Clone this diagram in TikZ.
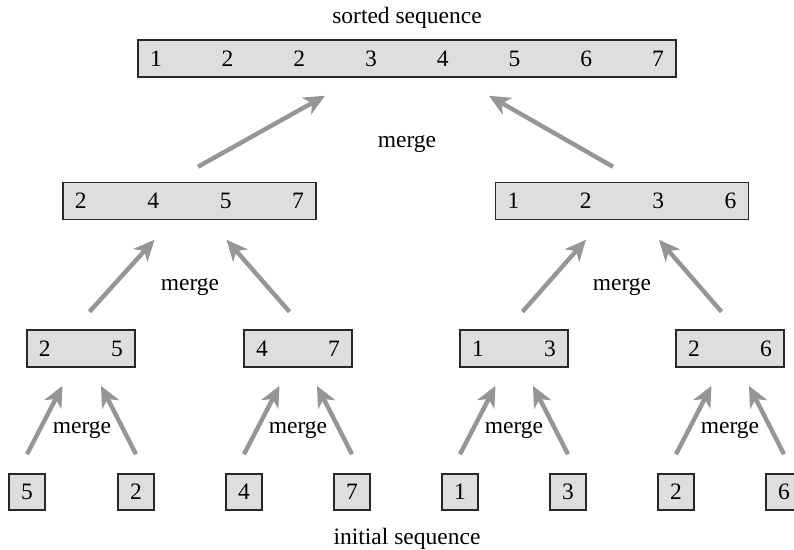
\documentclass[tikz,border=0pt]{standalone}
\usepackage{fontspec}
\setmainfont{Liberation Serif}
\usepackage{tikz}
\usetikzlibrary{arrows.meta, calc}
\definecolor{boxfill}{RGB}{222,222,222}
\definecolor{boxline}{RGB}{40,40,40}
\definecolor{arrowgray}{RGB}{150,150,150}
\tikzset{
  seqbox/.style={
    rectangle, draw=boxline, line width=0.75pt, fill=boxfill,
    minimum height=18.5pt, inner xsep=6pt, inner ysep=0pt,
    font=\fontsize{11.75}{14}\selectfont
  },
  leafbox/.style={seqbox, minimum width=18pt, minimum height=18pt, inner xsep=0pt},
  merge arrow/.style={draw=arrowgray, line width=2.2pt,
    -{Stealth[length=10.5pt, width=9.5pt, inset=3pt]}},
  caption/.style={font=\fontsize{11.75}{14}\selectfont, inner sep=0pt},
}

\begin{document}
\begin{tikzpicture}[x=0.5pt, y=-0.5pt]
  \useasboundingbox (0,0) rectangle (794,550);

  % sorted sequence
  \node[caption] (sorted) at (407,18) {sorted sequence};
  \node[seqbox, text width=257pt] (top) at (407,58.5)
    {1\hfill 2\hfill 2\hfill 3\hfill 4\hfill 5\hfill 6\hfill 7};

  % halves
  \node[seqbox, text width=114.5pt] (halfA) at (189.5,201) {2\hfill 4\hfill 5\hfill 7};
  \node[seqbox, text width=114.5pt] (halfB) at (622,201) {1\hfill 2\hfill 3\hfill 6};

  % pairs
  \node[seqbox, text width=42pt] (pairA) at (81,348.5) {2\hfill 5};
  \node[seqbox, text width=42pt] (pairB) at (298,348.5) {4\hfill 7};
  \node[seqbox, text width=42pt] (pairC) at (514,348.5) {1\hfill 3};
  \node[seqbox, text width=42pt] (pairD) at (730,348.5) {2\hfill 6};

  % initial sequence
  \node[leafbox] (leafA) at (27,492) {5};
  \node[leafbox] (leafB) at (136,492) {2};
  \node[leafbox] (leafC) at (244,492) {4};
  \node[leafbox] (leafD) at (352,492) {7};
  \node[leafbox] (leafE) at (460,492) {1};
  \node[leafbox] (leafF) at (568,492) {3};
  \node[leafbox] (leafG) at (676,492) {2};
  \node[leafbox] (leafH) at (784,492) {6};
  \node[caption] (initial) at (407,539) {initial sequence};

  % merge labels
  \node[caption] (mergeTop) at (407,144) {merge};
  \node[caption] (mergeA) at (190,287) {merge};
  \node[caption] (mergeB) at (622,287) {merge};
  \node[caption] (mergeC) at (82,430) {merge};
  \node[caption] (mergeD) at (298,430) {merge};
  \node[caption] (mergeE) at (514,430) {merge};
  \node[caption] (mergeF) at (730,430) {merge};

  % halves -> sorted
  \draw[merge arrow] ($(halfA.north)+(8.5,-15)$) -- ($(top.south)+(-82,18)$);
  \draw[merge arrow] ($(halfB.north)+(-9,-15)$) -- ($(top.south)+(82,18)$);

  % pairs -> halves
  \draw[merge arrow] ($(pairA.north)+(8.5,-17.5)$) -- ($(halfA.south)+(-35,19.5)$);
  \draw[merge arrow] ($(pairB.north)+(-8.5,-17.5)$) -- ($(halfA.south)+(37,19.5)$);
  \draw[merge arrow] ($(pairC.north)+(8.5,-17.5)$) -- ($(halfB.south)+(-36,19.5)$);
  \draw[merge arrow] ($(pairD.north)+(-8.5,-17.5)$) -- ($(halfB.south)+(37,19.5)$);

  % leaves -> pairs
  \draw[merge arrow] ($(leafA.north)+(0,-19)$) -- ($(pairA.south)+(-18.5,18)$);
  \draw[merge arrow] ($(leafB.north)+(0,-19)$) -- ($(pairA.south)+(20,18)$);
  \draw[merge arrow] ($(leafC.north)+(0,-19)$) -- ($(pairB.south)+(-18.5,18)$);
  \draw[merge arrow] ($(leafD.north)+(0,-19)$) -- ($(pairB.south)+(19,18)$);
  \draw[merge arrow] ($(leafE.north)+(0,-19)$) -- ($(pairC.south)+(-18.5,18)$);
  \draw[merge arrow] ($(leafF.north)+(0,-19)$) -- ($(pairC.south)+(19,18)$);
  \draw[merge arrow] ($(leafG.north)+(0,-19)$) -- ($(pairD.south)+(-18.5,18)$);
  \draw[merge arrow] ($(leafH.north)+(0,-19)$) -- ($(pairD.south)+(19,18)$);
\end{tikzpicture}
\end{document}
